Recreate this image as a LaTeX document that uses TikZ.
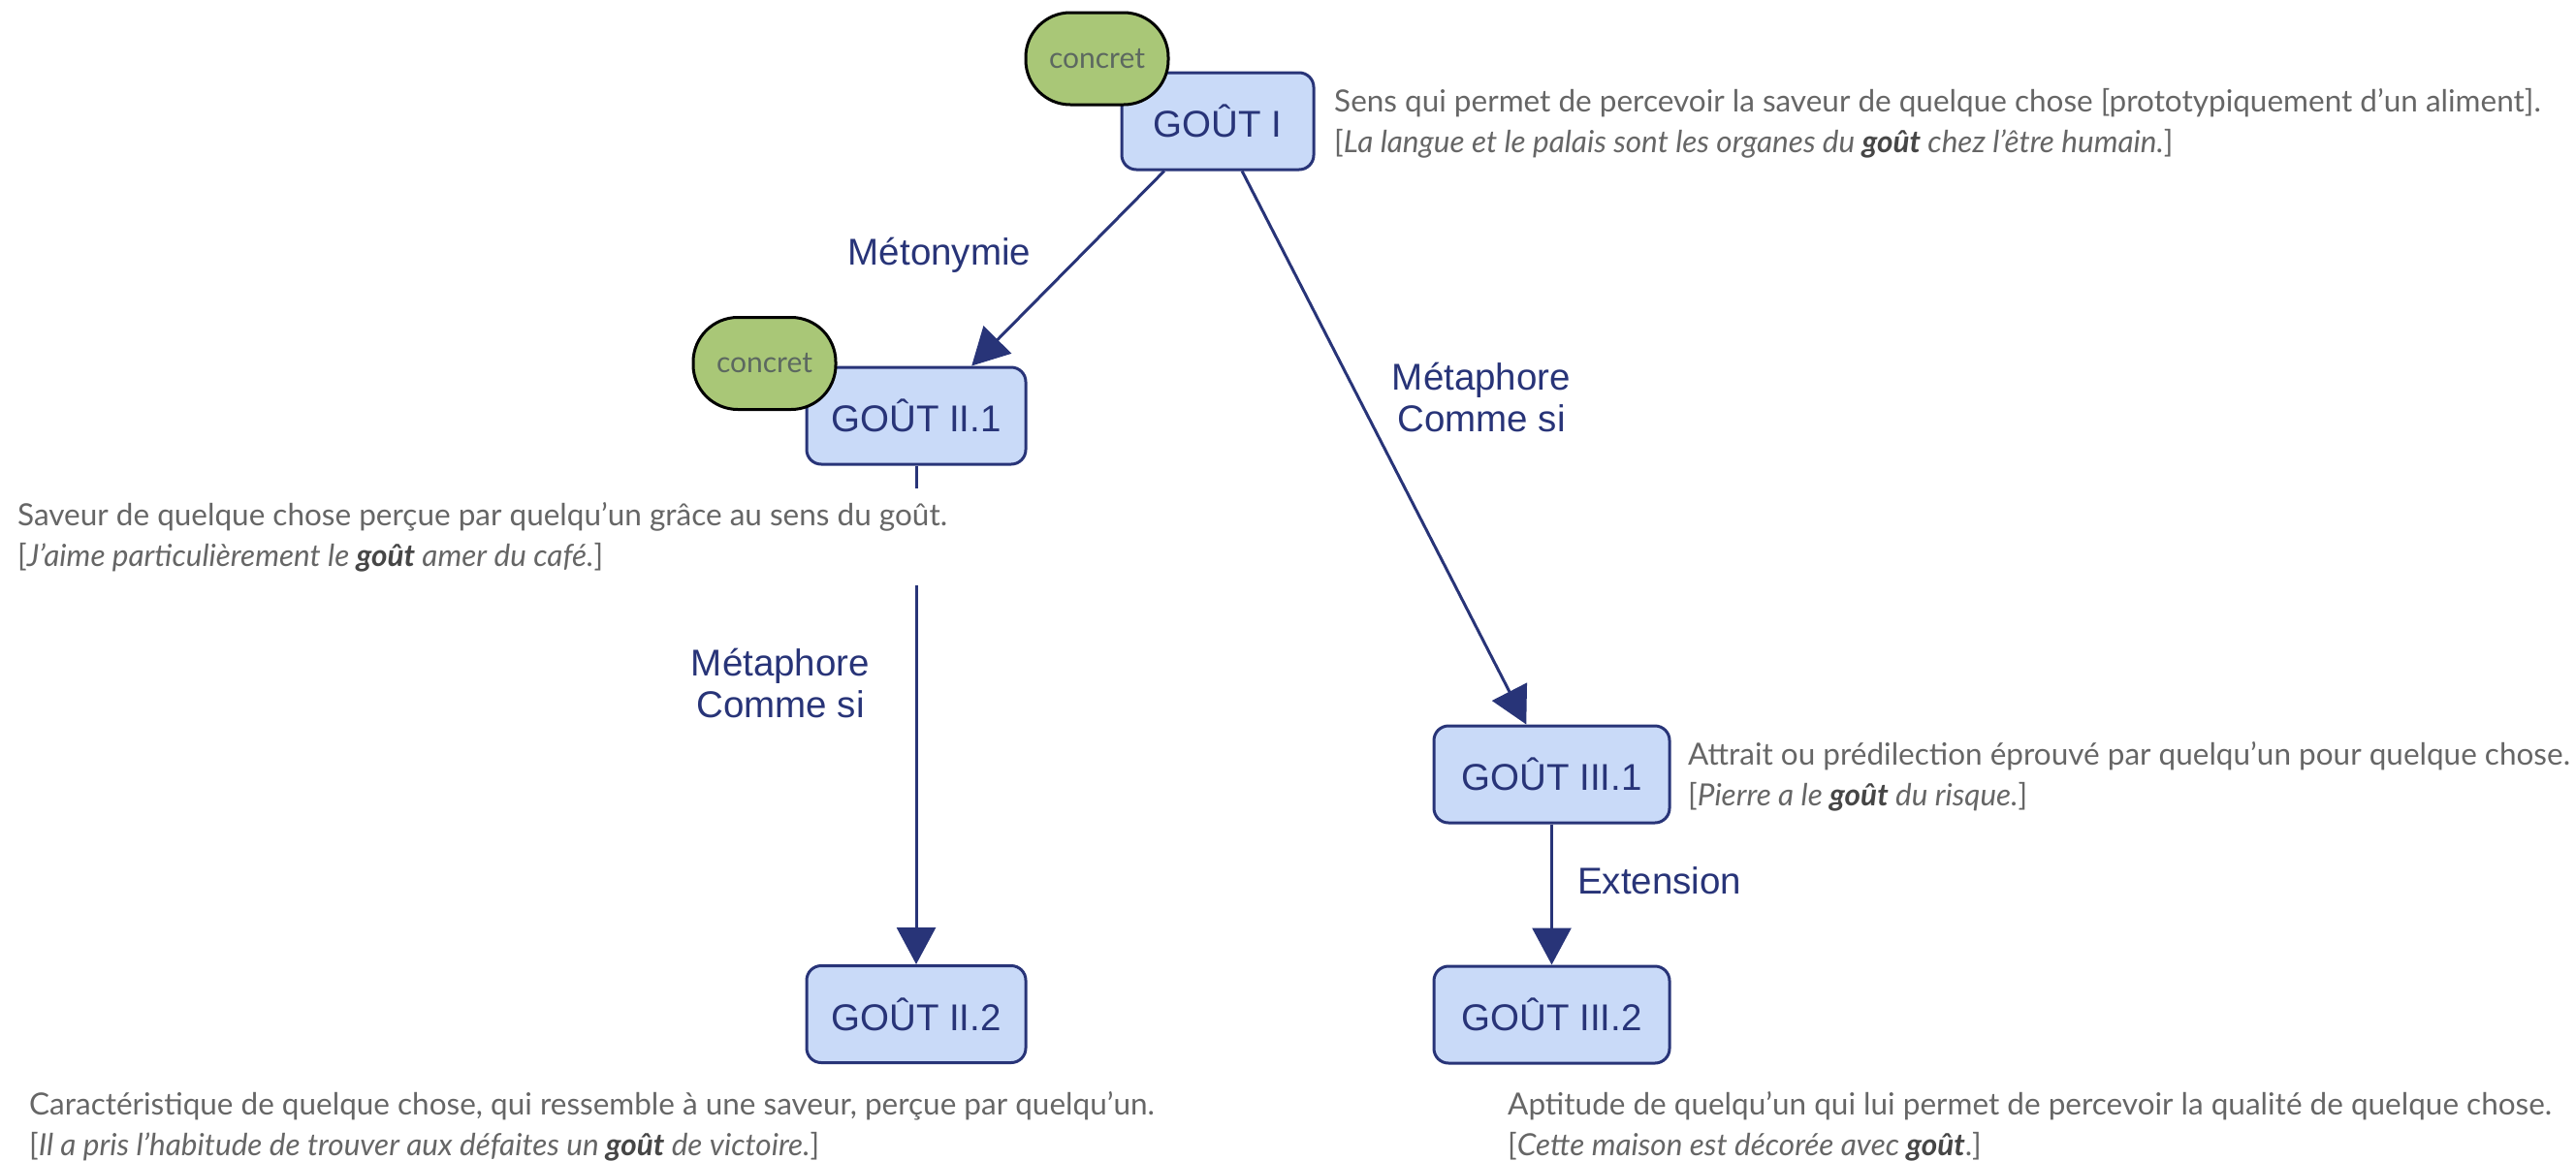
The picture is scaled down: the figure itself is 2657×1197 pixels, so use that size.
\documentclass[tikz,border=0pt]{standalone}
\usepackage{fontspec}
\setmainfont{Liberation Sans}
\newfontfamily\deffont{Lato}
\usetikzlibrary{arrows.meta,calc}
\definecolor{navy}{RGB}{40,52,120}
\definecolor{boxfill}{RGB}{201,218,248}
\definecolor{greenfill}{RGB}{169,199,119}
\definecolor{concrettext}{RGB}{92,104,96}
\definecolor{deftext}{RGB}{102,102,102}
\definecolor{boldtext}{RGB}{70,70,70}
\newcommand{\gb}[1]{{\bfseries\color{boldtext}#1}}
\tikzset{
  sense/.style={draw=navy, line width=3pt, fill=boxfill, rounded corners=15pt,
    text=navy, font=\fontsize{38.5}{43}\selectfont, inner sep=0pt, minimum height=100pt},
  tag/.style={draw=black, line width=3pt, fill=greenfill, rounded corners=46pt,
    text=concrettext, font=\deffont\fontsize{30}{34}\selectfont, inner sep=0pt,
    minimum width=147pt, minimum height=95pt},
  link/.style={draw=navy, line width=3pt, -{Triangle[length=38pt,width=40pt]}},
  rel/.style={text=navy, font=\fontsize{38.5}{43}\selectfont, inner sep=0pt, align=center},
  defn/.style={text=deftext, font=\deffont\fontsize{31.5}{42}\selectfont, inner sep=0pt, align=left}
}
\begin{document}
\begin{tikzpicture}[x=1pt,y=-1pt]
\useasboundingbox (0,0) rectangle (2657,1197);
% definition of II.1 first (its white ground hides part of the connector)
% sense boxes
\node[sense, minimum width=198pt] (gI) at (1256,125) {GOÛT I};
\node[sense, minimum width=226pt] (gII1) at (945,429) {GOÛT II.1};
\node[sense, minimum width=226pt] (gII2) at (945,1046.5) {GOÛT II.2};
\node[sense, minimum width=243pt] (gIII1) at (1600.5,799) {GOÛT III.1};
\node[sense, minimum width=243pt] (gIII2) at (1600.5,1047) {GOÛT III.2};
% tags
\node[tag] (cI) at (1131.5,60.5) {concret};
\node[tag] (cII) at (788.5,375) {concret};
% connectors
\draw[link] (gI.-137) -- (gII1.42);
\draw[link] (gI.-64.4) -- (gIII1.117);
\draw[link] (gII1.south) -- (gII2.north);
\draw[link] (gIII1.south) -- (gIII2.north);
% relation labels
\node[rel, anchor=base] (lmeto) at (969,273) {Métonymie};
\node[rel, anchor=base] (lmeta1) at (1528,445) {Métaphore\\Comme si};
\node[rel, anchor=base] (lmeta2) at (805,740) {Métaphore\\Comme si};
\node[rel, anchor=base west] (lext) at (1627,922) {Extension};
% definitions
\node[defn, anchor=base west] (dI) at (1376,157) {Sens qui permet de percevoir la saveur de quelque chose [prototypiquement d’un aliment].\\{[}\textit{La langue et le palais sont les organes du \gb{goût} chez l’être humain.}]};
\node[defn, anchor=base west, fill=white, inner ysep=14pt, inner xsep=4pt] (dII1) at (14,584) {Saveur de quelque chose perçue par quelqu’un grâce au sens du goût.\\{[}\textit{J’aime particulièrement le \gb{goût} amer du café.}]};
\node[defn, anchor=base west] (dIII1) at (1741,831) {Attrait ou prédilection éprouvé par quelqu’un pour quelque chose.\\{[}\textit{Pierre a le \gb{goût} du risque.}]};
\node[defn, anchor=base west] (dII2) at (30,1192) {Caractéristique de quelque chose, qui ressemble à une saveur, perçue par quelqu’un.\\{[}\textit{Il a pris l’habitude de trouver aux défaites un \gb{goût} de victoire.}]};
\node[defn, anchor=base west] (dIII2) at (1555,1192) {Aptitude de quelqu’un qui lui permet de percevoir la qualité de quelque chose.\\{[}\textit{Cette maison est décorée avec \gb{goût}}.]};
\end{tikzpicture}
\end{document}
